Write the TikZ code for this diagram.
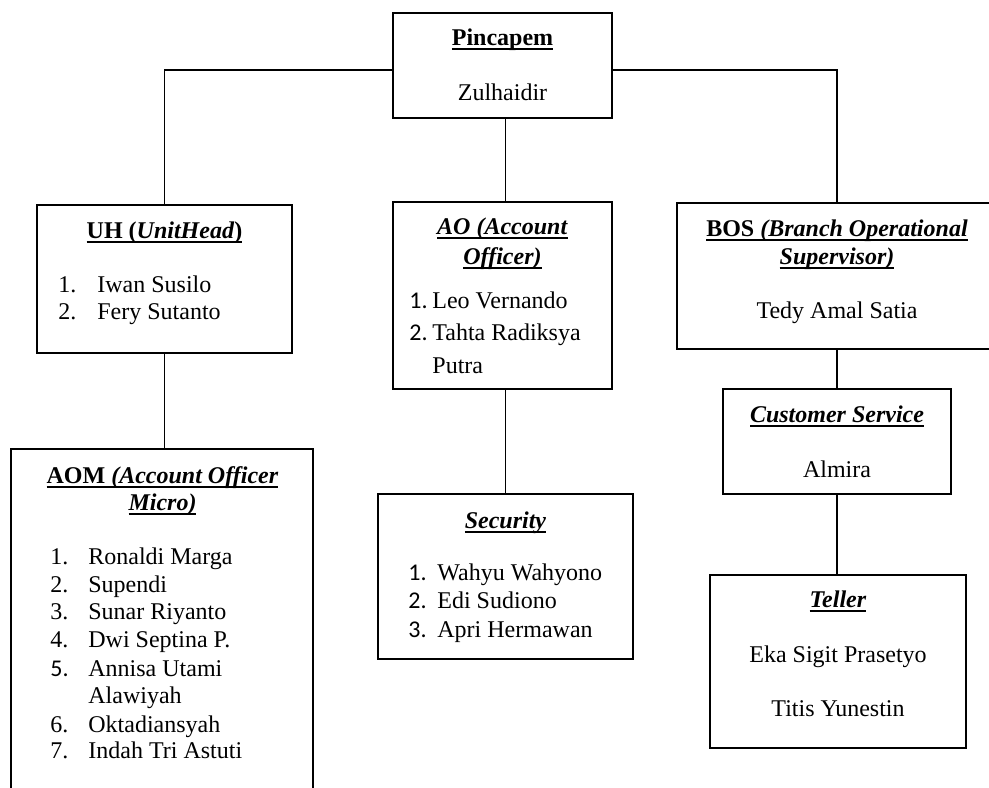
\documentclass[tikz,border=0pt]{standalone}
\usepackage{fontspec}
\usetikzlibrary{calc}
\setmainfont{Liberation Serif}
\newfontfamily\calib{Carlito}
\newsavebox\ulbox
\newcommand\ulx[1]{\sbox\ulbox{#1}\rlap{\rule[-2.3pt]{\wd\ulbox}{0.9pt}}\usebox\ulbox}
\newcommand\bi[1]{\textbf{\textit{#1}}}
\begin{document}
\begin{tikzpicture}[x=0.5pt,y=-0.5pt,
  box/.style={draw, line width=1pt, rectangle, inner sep=0pt},
  conn/.style={line width=0.8pt},
  txt/.style={anchor=base, inner sep=0pt, font=\fontsize{12}{14}\selectfont},
  ltxt/.style={txt, anchor=base west}]
\useasboundingbox (0,0) rectangle (989,787);
\clip (0,0) rectangle (989,787);
% boxes
\node[box, minimum width=109.5pt, minimum height=52.5pt] (pin) at (502.5,65.5) {};
\node[box, minimum width=127.5pt, minimum height=74pt] (uh) at (164.5,279) {};
\node[box, minimum width=109.5pt, minimum height=93.5pt] (ao) at (502.5,295.5) {};
\node[box, minimum width=161pt, minimum height=73pt] (bos) at (838,276) {};
\node[box, minimum width=151pt, minimum height=175.5pt] (aom) at (162,624.5) {};
\node[box, minimum width=127.5pt, minimum height=82.5pt] (sec) at (505.5,576.5) {};
\node[box, minimum width=114pt, minimum height=52.5pt] (cs) at (837,441.5) {};
\node[box, minimum width=128pt, minimum height=86.5pt] (tel) at (838,661.5) {};
% connectors
\coordinate (pinL) at ($(pin.west)+(0,4.5)$);
\coordinate (pinR) at ($(pin.east)+(0,4.5)$);
\draw[conn] (pinL) -| (uh.north);
\draw[conn] (pinR) -| (cs.north |- bos.north);
\draw[conn] (sec.north |- pin.south) -- (sec.north |- ao.north);
\draw[conn] (uh.south) -- (uh.south |- aom.north);
\draw[conn] (sec.north |- ao.south) -- (sec.north);
\draw[conn] (cs.north |- bos.south) -- (cs.north);
\draw[conn] (cs.south) -- (cs.south |- tel.north);
% Pincapem
\node[txt] (pinT) at (502.5,45) {\ulx{\textbf{Pincapem}}};
\node[txt] (pinN) at (502.5,100) {Zulhaidir};
% UH
\node[txt] (uhT) at (164.5,238) {\ulx{\textbf{UH (\textit{UnitHead})}}};
\node[ltxt] (uh1n) at (58,292) {1.};
\node[ltxt] (uh1) at (97,292) {Iwan Susilo};
\node[ltxt] (uh2n) at (58,319) {2.};
\node[ltxt] (uh2) at (97,319) {Fery Sutanto};
% AO
\node[txt] (aoT1) at (502.5,234) {\ulx{\bi{AO (Account}}};
\node[txt] (aoT2) at (502.5,264) {\ulx{\bi{Officer)}}};
\node[ltxt] (ao1n) at (409,308) {\calib 1.};
\node[ltxt] (ao1) at (432,308) {Leo Vernando};
\node[ltxt] (ao2n) at (409,340) {\calib 2.};
\node[ltxt] (ao2) at (432,340) {Tahta Radiksya};
\node[ltxt] (ao3) at (432,373) {Putra};
% BOS
\node[txt] (bosT1) at (837,236) {\ulx{\textbf{BOS} \bi{(Branch Operational}}};
\node[txt] (bosT2) at (837,264) {\ulx{\bi{Supervisor)}}};
\node[txt] (bosN) at (837,318) {Tedy Amal Satia};
% AOM
\node[txt] (aomT1) at (162.5,483) {\ulx{\textbf{AOM} \bi{(Account Officer}}};
\node[txt] (aomT2) at (162.5,510) {\ulx{\bi{Micro)}}};
\node[ltxt] (m1n) at (50,564) {1.};
\node[ltxt] (m1) at (88,564) {Ronaldi Marga};
\node[ltxt] (m2n) at (50,592) {2.};
\node[ltxt] (m2) at (88,592) {Supendi};
\node[ltxt] (m3n) at (50,619) {3.};
\node[ltxt] (m3) at (88,619) {Sunar Riyanto};
\node[ltxt] (m4n) at (50,647) {4.};
\node[ltxt] (m4) at (88,647) {Dwi Septina P.};
\node[ltxt] (m5n) at (50,676) {\calib 5.};
\node[ltxt] (m5) at (88,676) {Annisa Utami};
\node[ltxt] (m5b) at (88,703) {Alawiyah};
\node[ltxt] (m6n) at (50,732) {6.};
\node[ltxt] (m6) at (88,732) {Oktadiansyah};
\node[ltxt] (m7n) at (50,758) {7.};
\node[ltxt] (m7) at (88,758) {Indah Tri Astuti};
% Security
\node[txt] (secT) at (505.5,528) {\ulx{\bi{Security}}};
\node[ltxt] (s1n) at (408,580) {\calib 1.};
\node[ltxt] (s1) at (437,580) {Wahyu Wahyono};
\node[ltxt] (s2n) at (408,608) {\calib 2.};
\node[ltxt] (s2) at (437,608) {Edi Sudiono};
\node[ltxt] (s3n) at (408,637) {\calib 3.};
\node[ltxt] (s3) at (437,637) {Apri Hermawan};
% Customer Service
\node[txt] (csT) at (837,422) {\ulx{\bi{Customer Service}}};
\node[txt] (csN) at (837,477) {Almira};
% Teller
\node[txt] (telT) at (838,607) {\ulx{\bi{Teller}}};
\node[txt] (tel1) at (838,662) {Eka Sigit Prasetyo};
\node[txt] (tel2) at (838,716) {Titis Yunestin};
\end{tikzpicture}
\end{document}
